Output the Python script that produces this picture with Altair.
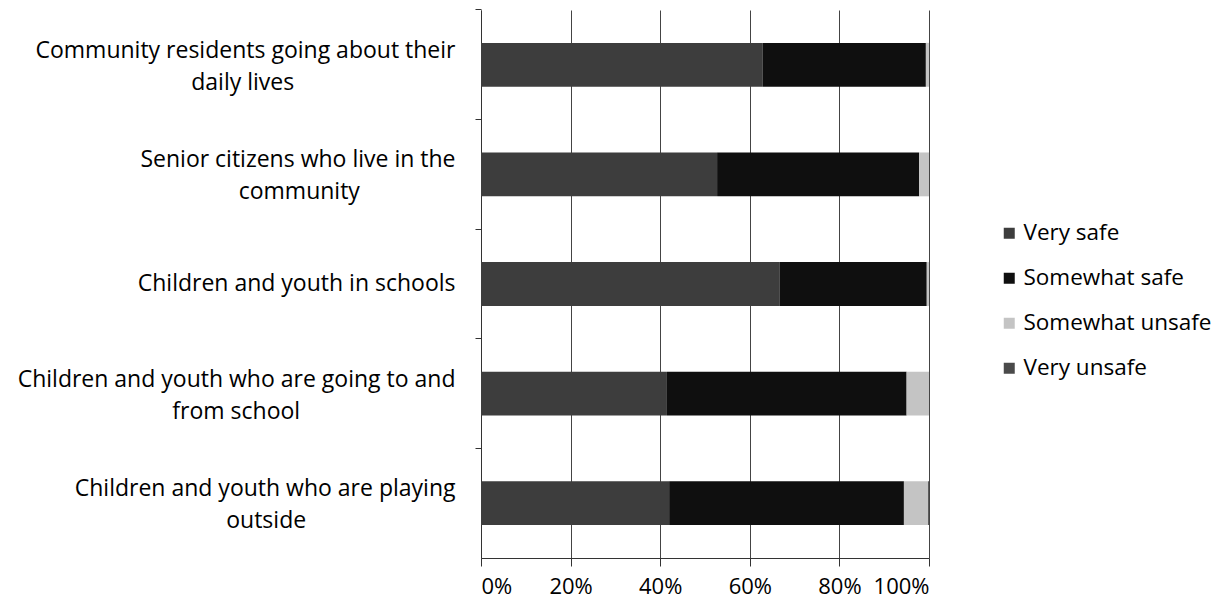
import altair as alt
import pandas as pd

line1 = [
    "Community residents going about their",
    "Senior citizens who live in the",
    "Children and youth in schools",
    "Children and youth who are going to and",
    "Children and youth who are playing",
]
line2 = ["daily lives", "community", "", "from school", "outside"]
series = ["Very safe", "Somewhat safe", "Somewhat unsafe", "Very unsafe"]
very_safe = [62.9, 52.7, 66.7, 41.5, 42.0]
somewhat_safe = [36.4, 45.1, 32.8, 53.5, 52.4]
somewhat_unsafe = [0.7, 2.2, 0.5, 5.0, 5.4]
very_unsafe = [0.0, 0.0, 0.0, 0.0, 0.2]
colors = ["#3d3d3d", "#0f0f0f", "#c4c4c4", "#4a4a4a"]
x_ticks = [0, 20, 40, 60, 80, 100]

# approximate Open Sans advance widths (units of 1/2048 em), used only to
# centre the second line of a wrapped label under the first one
ADV = {"a": 1139, "b": 1255, "c": 975, "d": 1255, "e": 1149, "f": 694, "g": 1122,
       "h": 1257, "i": 518, "j": 518, "k": 1075, "l": 518, "m": 1905, "n": 1257,
       "o": 1237, "p": 1255, "q": 1255, "r": 836, "s": 977, "t": 723, "u": 1257,
       "v": 1026, "w": 1593, "x": 1073, "y": 1028, "z": 979, " ": 532,
       "C": 1294, "S": 1108}
NBSP = 532


def width(s):
    return sum(ADV.get(ch, 1150) for ch in s)


labels = []
for a, b in zip(line1, line2):
    if b:
        n = round((width(a) - width(b)) / 2 / NBSP)
        # trailing no-break spaces, closed by a zero-width space so they are not trimmed
        labels.append(a + "|" + b + "\u00a0" * n + "\u200b")
    else:
        labels.append(a)

rows = []
for i, c in enumerate(labels):
    for j, (s, vals) in enumerate(zip(series, [very_safe, somewhat_safe, somewhat_unsafe, very_unsafe])):
        rows.append({"cat": c, "series": s, "value": vals[i], "order": j})
df = pd.DataFrame(rows)

FONT = "Open Sans"
FS = 23

chart = alt.Chart(df).mark_bar().encode(
    y=alt.Y("cat:N", sort=labels, title=None,
            scale=alt.Scale(paddingInner=0.6, paddingOuter=0.3),
            axis=alt.Axis(labelExpr="split(datum.label, '|')", labelFontSize=FS,
                          labelFont=FONT, labelColor="#000", labelLineHeight=32,
                          labelAlign="right", labelPadding=20, tickSize=6,
                          bandPosition=-0.75,
                          labelOffset=alt.condition("indexof(datum.value, '|') >= 0",
                                                    alt.value(-14), alt.value(0)),
                          tickColor="#333", domainColor="#333", labelLimit=700,
                          grid=False)),
    x=alt.X("value:Q", stack="zero", title=None,
            scale=alt.Scale(domain=[0, 100], nice=False),
            axis=alt.Axis(values=x_ticks, labelExpr="datum.value + '%'",
                          labelFontSize=22, labelFont=FONT, labelColor="#000",
                          tickSize=8, tickColor="#333", domainColor="#333",
                          gridColor="#444", gridOpacity=1, labelPadding=10)),
    color=alt.Color("series:N", scale=alt.Scale(domain=series, range=colors),
                    legend=alt.Legend(title=None, orient="none", legendX=517, legendY=212,
                                      labelFontSize=22.5, labelFont=FONT, labelColor="#000",
                                      labelLimit=300,
                                      symbolType="square", symbolSize=121,
                                      symbolStrokeWidth=0, rowPadding=22, labelOffset=3)),
    order=alt.Order("order:Q"),
).properties(
    width=448, height=548,
    autosize=alt.AutoSizeParams(type="none"),
    padding={"left": 473, "top": 2, "right": 288, "bottom": 42},
).configure_view(stroke=None)

chart.save("out.html", embed_options={"renderer": "svg", "actions": False})
